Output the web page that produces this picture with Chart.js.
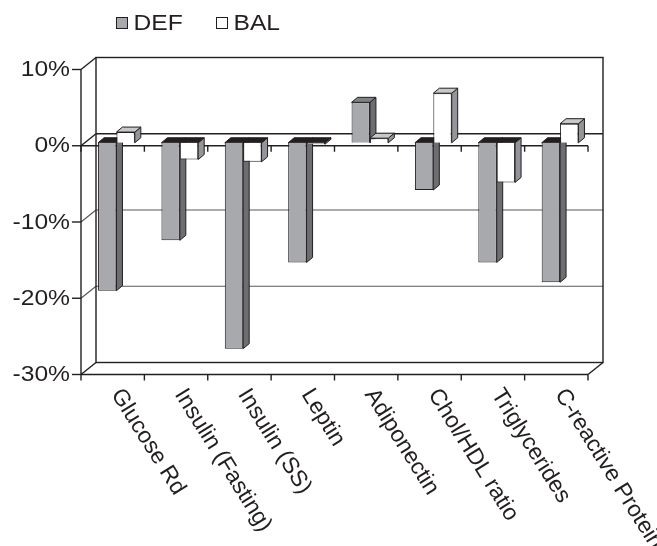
<!DOCTYPE html>
<html>
<head>
<meta charset="utf-8">
<script src="https://cdn.jsdelivr.net/npm/chart.js@4/dist/chart.umd.min.js"></script>
<style>
  html, body { margin: 0; padding: 0; background: #ffffff; }
  canvas { display: block; }
</style>
</head>
<body>
<canvas id="chart" width="657" height="546"></canvas>
<script>
// Percent change per marker, two diet groups
const categories = ['Glucose Rd', 'Insulin (Fasting)', 'Insulin (SS)', 'Leptin',
                    'Adiponectin', 'Chol/HDL ratio', 'Triglycerides', 'C-reactive Protein'];
const defValues = [-19.4, -12.8, -27.0, -15.7, 5.3, -6.2, -15.7, -18.3];
const balValues = [1.4, -2.2, -2.5, -0.2, 0.6, 6.5, -5.2, 2.5];
const yMin = -30, yMax = 10, yStep = 10;

const FONT = "'Liberation Sans', Arial, Helvetica, sans-serif";
const INK = '#231f20';
const WIDE = 1.12; // horizontal stretch of the upright lettering

// 3D projection: depth of the walls, where the bars sit, and the bar depth
const WALL = { x: 15, y: -12 };
const FRONT = { x: 3.75, y: -3 };
const DEPTH = { x: 6, y: -5 };

function line(ctx, x1, y1, x2, y2) {
  ctx.beginPath(); ctx.moveTo(x1, y1); ctx.lineTo(x2, y2); ctx.stroke();
}
function poly(ctx, pts, fill) {
  ctx.beginPath();
  ctx.moveTo(pts[0][0], pts[0][1]);
  for (let i = 1; i < pts.length; i++) ctx.lineTo(pts[i][0], pts[i][1]);
  ctx.closePath();
  ctx.fillStyle = fill; ctx.fill();
  ctx.stroke();
}
function wideText(ctx, text, x, y, align) {
  ctx.save();
  ctx.translate(x, y);
  ctx.scale(WIDE, 1);
  ctx.textAlign = align;
  ctx.fillText(text, 0, 0);
  ctx.restore();
}

const box3d = {
  id: 'box3d',
  beforeDatasetsDraw(chart) {
    const { ctx, chartArea: a, scales: { y: ys } } = chart;
    const L = a.left, R = a.right;
    const n = categories.length;
    const cw = (R - L) / n;
    const py = v => ys.getPixelForValue(v);
    ctx.save();
    ctx.lineCap = 'butt';

    // back-wall gridlines and matching diagonals on the side wall
    ctx.strokeStyle = '#58595b'; ctx.lineWidth = 1.2;
    for (let v = yMin + yStep; v < 0; v += yStep) {
      const y = py(v);
      line(ctx, L + WALL.x, y + WALL.y, R + WALL.x, y + WALL.y);
      line(ctx, L, y, L + WALL.x, y + WALL.y);
    }

    ctx.strokeStyle = INK; ctx.lineWidth = 1.4;
    // back wall
    const top = py(yMax), bot = py(yMin), zero = py(0);
    ctx.strokeRect(L + WALL.x, top + WALL.y, R - L, bot - top);
    // side wall edges
    line(ctx, L, top, L, bot);
    line(ctx, L, top, L + WALL.x, top + WALL.y);
    line(ctx, L, bot, L + WALL.x, bot + WALL.y);
    // floor front edge
    line(ctx, L, bot, R, bot);
    line(ctx, R, bot, R + WALL.x, bot + WALL.y);
    // plane at zero
    line(ctx, L + WALL.x, zero + WALL.y, R + WALL.x, zero + WALL.y);
    line(ctx, L, zero, L + WALL.x, zero + WALL.y);
    line(ctx, L, zero, R, zero);
    // y tick marks
    for (let v = yMin; v <= yMax; v += yStep) line(ctx, L - 9, py(v), L, py(v));
    // category tick marks
    for (let i = 0; i <= n; i++) {
      const x = L + i * cw;
      line(ctx, x, zero, x, zero + 6);
      line(ctx, x, bot, x, bot + 6);
    }

    // depth faces of every bar (sides and tops), fronts come from the library
    ctx.lineWidth = 1; ctx.strokeStyle = INK; ctx.lineJoin = 'miter';
    chart.data.datasets.forEach((ds, di) => {
      const meta = chart.getDatasetMeta(di);
      meta.data.forEach((el, i) => {
        const p = el.getProps(['x', 'y', 'base', 'width'], true);
        const l = p.x - p.width / 2 + FRONT.x, r = p.x + p.width / 2 + FRONT.x;
        const t = Math.min(p.y, p.base) + FRONT.y, b = Math.max(p.y, p.base) + FRONT.y;
        poly(ctx, [[r, t], [r + DEPTH.x, t + DEPTH.y], [r + DEPTH.x, b + DEPTH.y], [r, b]], ds.sideColor);
        const capColor = ds.data[i] < 0 ? INK : ds.topColor;
        poly(ctx, [[l, t], [l + DEPTH.x, t + DEPTH.y], [r + DEPTH.x, t + DEPTH.y], [r, t]], capColor);
      });
    });
    ctx.restore();

    // shift the library's bar fronts into their depth plane
    ctx.save();
    ctx.translate(FRONT.x, FRONT.y);
  },
  afterDatasetsDraw(chart) {
    chart.ctx.restore();
  },
  afterDraw(chart) {
    const { ctx, chartArea: a, scales: { x: xs, y: ys } } = chart;
    ctx.save();
    ctx.fillStyle = INK;

    // value labels on the side wall
    ctx.font = '22px ' + FONT;
    ctx.textBaseline = 'middle';
    ys.ticks.forEach(t => {
      wideText(ctx, t.value + '%', a.left - 11, ys.getPixelForValue(t.value) + 0.5, 'right');
    });

    // slanted category labels
    ctx.font = '23px ' + FONT;
    const ang = 58 * Math.PI / 180;
    categories.forEach((c, i) => {
      const x = xs.getPixelForValue(i) + 3.5;
      ctx.save();
      ctx.translate(x, a.bottom + 16.5);
      ctx.rotate(ang);
      ctx.textAlign = 'left';
      ctx.textBaseline = 'middle';
      ctx.fillText(c, 0, 0);
      ctx.restore();
    });

    // legend
    ctx.font = '22px ' + FONT;
    let lx = 116.5;
    ctx.textBaseline = 'alphabetic';
    chart.data.datasets.forEach(ds => {
      ctx.fillStyle = ds.backgroundColor;
      ctx.fillRect(lx, 17.5, 11, 11);
      ctx.strokeStyle = INK; ctx.lineWidth = 1;
      ctx.strokeRect(lx, 17.5, 11, 11);
      ctx.fillStyle = INK;
      wideText(ctx, ds.label, lx + 17, 30, 'left');
      lx += 100;
    });
    ctx.restore();
  }
};

new Chart(document.getElementById('chart'), {
  type: 'bar',
  data: {
    labels: categories,
    datasets: [
      { label: 'DEF', data: defValues, backgroundColor: '#a7a9ac', sideColor: '#6d6e71', topColor: '#808285',
        borderColor: INK, borderWidth: 1, categoryPercentage: 0.58, barPercentage: 1, clip: false },
      { label: 'BAL', data: balValues, backgroundColor: '#ffffff', sideColor: '#939598', topColor: '#c7c8ca',
        borderColor: INK, borderWidth: 1, categoryPercentage: 0.58, barPercentage: 1, clip: false }
    ]
  },
  options: {
    responsive: false,
    animation: false,
    devicePixelRatio: 1,
    layout: { padding: { top: 69.5, right: 69, left: 0, bottom: 0 } },
    plugins: { legend: { display: false }, tooltip: { enabled: false } },
    scales: {
      x: {
        type: 'category', offset: true,
        grid: { display: false }, border: { display: false },
        ticks: { display: false },
        afterFit(s) { s.height = 546 - 374.5; }
      },
      y: {
        min: yMin, max: yMax,
        ticks: { stepSize: yStep, display: false },
        grid: { display: false, drawTicks: false }, border: { display: false },
        afterFit(s) { s.width = 81; }
      }
    }
  },
  plugins: [box3d]
});
</script>
</body>
</html>
